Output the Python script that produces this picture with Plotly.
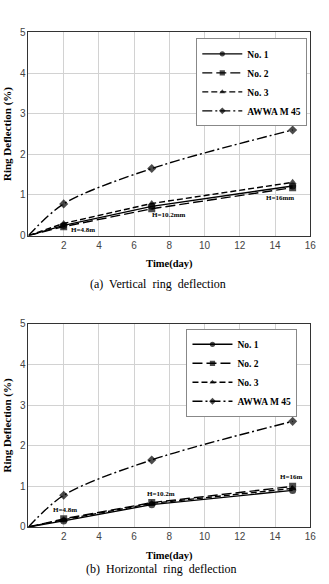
import plotly.graph_objects as go

# ---- data ----
days = [0, 2, 7, 15]

# (a) vertical ring deflection (%)
v_no1 = [0, 0.25, 0.72, 1.22]
v_no2 = [0, 0.22, 0.66, 1.18]
v_no3 = [0, 0.30, 0.79, 1.31]
v_awwa = [0, 0.78, 1.65, 2.60]

# (b) horizontal ring deflection (%)
h_no1 = [0, 0.15, 0.55, 0.90]
h_no2 = [0, 0.20, 0.60, 1.00]
h_no3 = [0, 0.18, 0.58, 0.95]
h_awwa = [0, 0.78, 1.65, 2.60]

series_names = ["No. 1", "No. 2", "No. 3", "AWWA M 45"]
x_ticks = [2, 4, 6, 8, 10, 12, 14, 16]
y_ticks = [0, 1, 2, 3, 4, 5]

top_labels = [("H=4.8m", 3.1, 0.14), ("H=10.2mm", 8.0, 0.50), ("H=16mm", 14.3, 0.92)]
bot_labels = [("H=4.8m", 2.1, 0.43), ("H=10.2m", 7.5, 0.80), ("H=16m", 14.9, 1.23)]

styles = [
    dict(dash="solid", symbol="circle"),
    dict(dash="10px,4px", symbol="square"),
    dict(dash="6px,3px", symbol="triangle-up"),
    dict(dash="10px,3px,2px,3px", symbol="diamond"),
]

SERIF = "Liberation Serif"
fig = go.Figure()

def add_panel(series, xa, ya, legend):
    for i, (name, vals) in enumerate(zip(series_names, series)):
        st = styles[i]
        fig.add_trace(go.Scatter(
            x=days, y=vals, name="<b>" + name + "</b>", mode="lines+markers",
            xaxis=xa, yaxis=ya, legend=legend,
            line=dict(color="black", width=1.4, dash=st["dash"],
                      shape="spline" if i == 3 else "linear", smoothing=0.9),
            marker=dict(color="black", symbol=st["symbol"], size=[0, 7, 7, 7],
                        line=dict(width=0)),
        ))

add_panel([v_no1, v_no2, v_no3, v_awwa], "x", "y", "legend")
add_panel([h_no1, h_no2, h_no3, h_awwa], "x2", "y2", "legend2")

axis_common = dict(
    range=[0, 16], tickvals=x_ticks, showgrid=True, gridcolor="#d2d2d2", gridwidth=1,
    showline=True, linecolor="#333", linewidth=1, mirror=True, ticks="",
    tickfont=dict(family="Liberation Sans", size=10, color="#444"), zeroline=False,
)
yaxis_common = dict(
    range=[0, 5], tickvals=y_ticks, showgrid=True, gridcolor="#d2d2d2", gridwidth=1,
    showline=True, linecolor="#333", linewidth=1, mirror=True, ticks="",
    tickfont=dict(family="Liberation Sans", size=10, color="#444"), zeroline=False,
)
xtitle = dict(text="<b>Time(day)</b>", font=dict(family=SERIF, size=10.5, color="black"), standoff=10)
ytitle = dict(text="<b>Ring Deflection (%)</b>", font=dict(family=SERIF, size=11, color="black"), standoff=6)
xdom = [29 / 329, 316 / 329]
legend_common = dict(xanchor="right", yanchor="top", bgcolor="white", bordercolor="#888", borderwidth=1,
                     font=dict(family=SERIF, size=9.5, color="black"), itemwidth=40)
fig.update_layout(
    width=329, height=584, margin=dict(l=0, r=0, t=0, b=0),
    paper_bgcolor="white", plot_bgcolor="white",
    xaxis=dict(axis_common, domain=xdom, anchor="y", title=xtitle),
    yaxis=dict(yaxis_common, domain=[1 - 235 / 584, 1 - 28 / 584], anchor="x", title=ytitle),
    xaxis2=dict(axis_common, domain=xdom, anchor="y2", title=xtitle),
    yaxis2=dict(yaxis_common, domain=[1 - 532 / 584, 1 - 325 / 584], anchor="x2", title=ytitle),
    legend=dict(legend_common, x=313 / 329, y=1 - 34 / 584),
    legend2=dict(legend_common, x=303 / 329, y=1 - 330 / 584),
    showlegend=True,
)

for txt, x, y in top_labels:
    fig.add_annotation(x=x, y=y, xref="x", yref="y", text="<b>" + txt + "</b>", showarrow=False,
                       font=dict(family=SERIF, size=7, color="black"))
for txt, x, y in bot_labels:
    fig.add_annotation(x=x, y=y, xref="x2", yref="y2", text="<b>" + txt + "</b>", showarrow=False,
                       font=dict(family=SERIF, size=7, color="black"))

fig.add_annotation(x=0.49, y=1 - 284 / 584, xref="paper", yref="paper", yanchor="middle",
                   text="(a)  Vertical  ring  deflection",
                   showarrow=False, font=dict(family=SERIF, size=12, color="black"))
fig.add_annotation(x=0.50, y=0, xref="paper", yref="paper", yanchor="bottom",
                   text="(b)  Horizontal  ring  deflection",
                   showarrow=False, font=dict(family=SERIF, size=12, color="black"))

fig.write_html("out.html")
